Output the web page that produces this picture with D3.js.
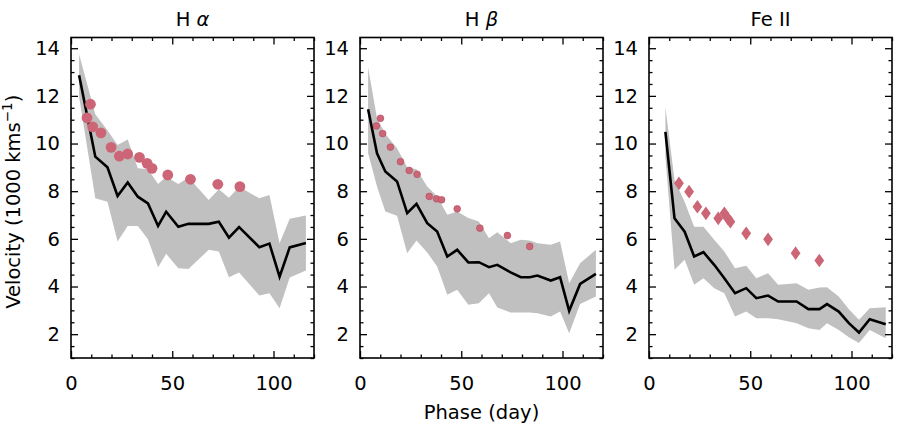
<!DOCTYPE html>
<html>
<head>
<meta charset="utf-8">
<title>Velocity evolution</title>
<script src="https://cdnjs.cloudflare.com/ajax/libs/d3/7.8.5/d3.min.js"></script>
<style>
  body { margin: 0; background: #fff; }
  svg text { font-family: "DejaVu Sans", sans-serif; fill: #000; }
</style>
</head>
<body>
<div id="chart"></div>
<script>

// H alpha
var haPhase = [4, 12, 18, 23, 28, 33, 38, 43, 47, 53, 58, 68, 73, 78, 83, 93, 98, 103, 108, 116];
var haMean  = [12.87, 9.45, 9.0, 7.8, 8.37, 7.77, 7.49, 6.54, 7.14, 6.51, 6.63, 6.63, 6.72, 6.05, 6.49, 5.65, 5.8, 4.41, 5.64, 5.83];
var haUpper = [13.75, 11.23, 10.56, 9.94, 10.17, 8.96, 8.92, 8.3, 8.61, 8.3, 8.57, 7.63, 8.08, 7.73, 8.19, 7.7, 7.84, 5.82, 6.84, 6.98];
var haLower = [11.96, 7.7, 7.56, 5.89, 6.54, 6.54, 5.98, 4.81, 5.37, 4.77, 4.73, 5.54, 5.47, 4.39, 4.59, 3.62, 3.72, 3.09, 4.38, 4.67];
var haObsPhase = [7.9, 9.6, 10.7, 14.8, 19.8, 23.9, 28, 33.8, 37.6, 40, 47.8, 59, 72.5, 83.4];
var haObsVel   = [11.08, 11.65, 10.7, 10.45, 9.84, 9.47, 9.56, 9.42, 9.17, 8.96, 8.68, 8.5, 8.29, 8.19];

// H beta
var hbPhase = [4, 8.4, 12.5, 18.3, 23.3, 27.9, 33.2, 38.1, 43.1, 48, 53.5, 58.7, 63.7, 67.8, 74.4, 79.4, 83.8, 87.6, 94.2, 98.8, 103.3, 108.7, 116.5];
var hbMean  = [11.44, 9.59, 8.83, 8.41, 7.08, 7.47, 6.66, 6.31, 5.26, 5.54, 5.01, 5.02, 4.81, 4.91, 4.59, 4.39, 4.39, 4.46, 4.25, 4.39, 2.98, 4.11, 4.53];
var hbUpper = [13.2, 11.06, 10.4, 9.8, 9.0, 8.92, 8.2, 7.78, 7.01, 7.15, 6.87, 6.73, 6.03, 6.28, 5.82, 5.96, 5.93, 5.82, 5.75, 5.89, 4.14, 4.98, 5.54];
var hbLower = [9.59, 8.2, 7.15, 6.97, 5.4, 5.93, 5.43, 4.84, 3.65, 3.86, 3.23, 3.3, 3.72, 3.12, 2.91, 2.91, 2.91, 2.88, 2.74, 2.95, 2.04, 3.27, 3.58];
var hbObsPhase = [8.1, 10.1, 11.2, 15, 20, 24.3, 28.2, 34.2, 37.8, 40.3, 48, 59.2, 72.8, 83.8];
var hbObsVel   = [10.74, 11.06, 10.42, 9.85, 9.24, 8.87, 8.71, 7.78, 7.68, 7.64, 7.26, 6.45, 6.14, 5.68];

// Fe II
var fePhase = [8.1, 12.6, 17.6, 22.3, 26.9, 32.2, 37.2, 42.5, 48, 53, 58.8, 63.8, 72.9, 78.7, 84.2, 87.9, 93.7, 98.7, 103.7, 109, 116.9];
var feMean  = [10.49, 6.86, 6.3, 5.26, 5.44, 4.91, 4.35, 3.72, 3.93, 3.51, 3.62, 3.37, 3.37, 3.05, 3.05, 3.26, 2.95, 2.46, 2.07, 2.63, 2.42];
var feUpper = [11.54, 8.47, 7.56, 6.51, 6.51, 5.96, 5.47, 4.77, 4.87, 4.35, 4.56, 4.07, 4.14, 3.86, 3.96, 3.97, 3.58, 3.05, 2.6, 3.09, 3.13];
var feLower = [9.45, 4.7, 5.12, 4.07, 4.35, 3.93, 3.72, 2.74, 2.95, 2.67, 2.67, 2.63, 2.46, 2.25, 2.18, 2.46, 2.18, 1.87, 1.63, 2.18, 1.83];
var feObsPhase = [14.8, 19.8, 23.9, 28.1, 34.2, 37.2, 38.9, 40.2, 48, 58.8, 72.4, 84.1];
var feObsVel   = [8.33, 7.98, 7.35, 7.07, 6.86, 7.07, 6.86, 6.72, 6.23, 5.98, 5.4, 5.09];

var xTicks = [0, 50, 100];
var yTicks = [2, 4, 6, 8, 10, 12, 14];

var panels = [
  {title: "H", greek: "α", phase: haPhase, mean: haMean, upper: haUpper, lower: haLower, obsX: haObsPhase, obsY: haObsVel, marker: "big"},
  {title: "H", greek: "β", phase: hbPhase, mean: hbMean, upper: hbUpper, lower: hbLower, obsX: hbObsPhase, obsY: hbObsVel, marker: "small"},
  {title: "Fe II", greek: "", phase: fePhase, mean: feMean, upper: feUpper, lower: feLower, obsX: feObsPhase, obsY: feObsVel, marker: "diamond"}
];

var lefts = [71, 360, 649];
var plotTop = 37.5;
var width = 243;
var height = 320.5;
var red = "#cc6677";
var fontSize = "19.5px";

var svg = d3.select("#chart").append("svg")
  .attr("width", 900)
  .attr("height", 428);

var y = d3.scaleLinear().domain([1, 14.45]).range([height, 0]);
var x = d3.scaleLinear().domain([0, 120]).range([0, width]);

var xMinor = d3.range(0, 121, 10).filter(function (v) { return v % 50 != 0; });
var yMinor = d3.range(1, 14.45, 0.5).filter(function (v) { return v % 2 != 0; });

panels.forEach(function (p, i) {
  var g = svg.append("g")
    .attr("transform", "translate(" + lefts[i] + "," + plotTop + ")");

  var rows = p.phase.map(function (d, j) {
    return {x: d, m: p.mean[j], hi: p.upper[j], lo: p.lower[j]};
  });

  g.append("path")
    .datum(rows)
    .attr("fill", "#c0c0c0")
    .attr("d", d3.area()
      .x(function (d) { return x(d.x); })
      .y0(function (d) { return y(d.lo); })
      .y1(function (d) { return y(d.hi); }));

  g.append("path")
    .datum(rows)
    .attr("fill", "none")
    .attr("stroke", "#000")
    .attr("stroke-width", 2.6)
    .attr("stroke-linejoin", "miter")
    .attr("d", d3.line()
      .x(function (d) { return x(d.x); })
      .y(function (d) { return y(d.m); }));

  var obs = p.obsX.map(function (d, j) { return {x: d, v: p.obsY[j]}; });

  if (p.marker == "diamond") {
    g.selectAll(".obs")
      .data(obs)
      .enter().append("path")
      .attr("class", "obs")
      .attr("transform", function (d) { return "translate(" + x(d.x) + "," + y(d.v) + ")"; })
      .attr("d", "M0,-6.8L4.9,0L0,6.8L-4.9,0Z")
      .attr("fill", red);
  } else {
    g.selectAll(".obs")
      .data(obs)
      .enter().append("circle")
      .attr("class", "obs")
      .attr("cx", function (d) { return x(d.x); })
      .attr("cy", function (d) { return y(d.v); })
      .attr("r", p.marker == "big" ? 5.4 : 3.4)
      .attr("fill", red)
      .attr("stroke", p.marker == "big" ? "none" : "#b04c60")
      .attr("stroke-width", 0.6);
  }

  // ticks, all pointing inward
  var axes = [
    g.append("g").attr("transform", "translate(0," + height + ")")
      .call(d3.axisBottom(x).tickValues(xTicks).tickSize(-7).tickPadding(18).tickFormat(d3.format("d"))),
    g.append("g")
      .call(d3.axisTop(x).tickValues(xTicks).tickSize(-7).tickFormat("")),
    g.append("g")
      .call(d3.axisLeft(y).tickValues(yTicks).tickSize(-7).tickPadding(11)),
    g.append("g").attr("transform", "translate(" + width + ",0)")
      .call(d3.axisRight(y).tickValues(yTicks).tickSize(-7).tickFormat("")),
    g.append("g").attr("transform", "translate(0," + height + ")")
      .call(d3.axisBottom(x).tickValues(xMinor).tickSize(-3.5).tickFormat("")),
    g.append("g")
      .call(d3.axisTop(x).tickValues(xMinor).tickSize(-3.5).tickFormat("")),
    g.append("g")
      .call(d3.axisLeft(y).tickValues(yMinor).tickSize(-3.5).tickFormat("")),
    g.append("g").attr("transform", "translate(" + width + ",0)")
      .call(d3.axisRight(y).tickValues(yMinor).tickSize(-3.5).tickFormat(""))
  ];
  axes.forEach(function (a) {
    a.select(".domain").remove();
    a.selectAll("line").attr("stroke", "#000").attr("stroke-width", 1.3);
    a.selectAll("text").style("font-size", fontSize).style("font-family", "DejaVu Sans");
  });

  g.append("rect")
    .attr("width", width)
    .attr("height", height)
    .attr("fill", "none")
    .attr("stroke", "#000")
    .attr("stroke-width", 1.6);

  var t = g.append("text")
    .attr("x", width / 2)
    .attr("y", -12)
    .attr("text-anchor", "middle")
    .style("font-size", fontSize)
    .text(p.title);
  if (p.greek) {
    t.append("tspan").text(" ");
    t.append("tspan").style("font-style", "italic").text(p.greek);
  }
});

svg.append("text")
  .attr("x", lefts[1] + width / 2)
  .attr("y", 419)
  .attr("text-anchor", "middle")
  .style("font-size", fontSize)
  .text("Phase (day)");

var yl = svg.append("text")
  .attr("transform", "translate(20," + (plotTop + height / 2 + 4) + ") rotate(-90)")
  .attr("text-anchor", "middle")
  .style("font-size", fontSize);
yl.append("tspan").text("Velocity (1000 kms");
yl.append("tspan").attr("baseline-shift", "super").style("font-size", "13.5px").text("−1");
yl.append("tspan").text(")");

</script>
</body>
</html>
